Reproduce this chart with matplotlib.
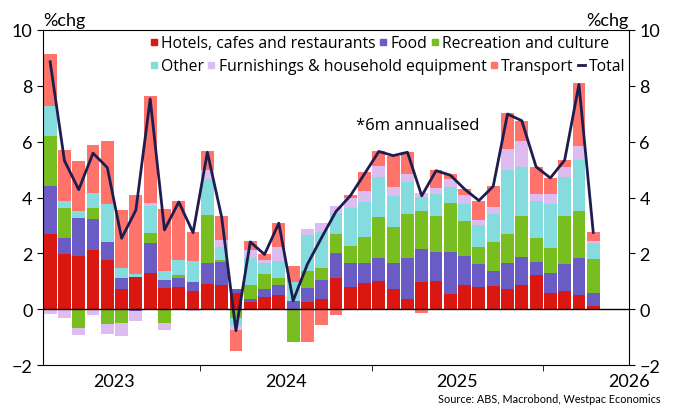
import numpy as np
import matplotlib
matplotlib.use("Agg")
import matplotlib.pyplot as plt
from matplotlib.lines import Line2D

plt.rcParams["font.family"] = ["Lato", "DejaVu Sans"]

# monthly, Aug 2022 .. Oct 2025
months = np.arange(39)

hotels = [2.71, 1.97, 1.91, 2.11, 1.76, 0.74, 1.17, 1.28, 0.76, 0.80, 0.66, 0.91, 0.88,
          0.57, 0.24, 0.44, 0.50, 0.00, 0.26, 0.36, 1.10, 0.80, 0.93, 1.02, 0.74, 0.38,
          0.96, 1.02, 0.53, 0.87, 0.80, 0.84, 0.72, 0.86, 1.22, 0.59, 0.66, 0.51, 0.10]
food = [1.71, 0.59, 1.35, 1.12, 0.65, 0.36, -0.07, 1.10, 0.27, 0.30, 0.33, 0.75, 0.82,
        0.15, 0.12, 0.30, 0.36, 0.29, 0.50, 0.67, 0.91, 0.85, 0.71, 0.82, 0.90, 1.46,
        1.19, 1.01, 1.52, 1.02, 0.82, 0.52, 0.94, 1.02, 0.46, 0.69, 0.96, 1.33, 0.49]
recreation = [1.78, 1.06, -0.69, 0.39, -0.54, -0.48, 0.00, 0.34, -0.50, 0.14, 0.00, 1.72, 0.06,
              -0.32, 0.50, 0.51, 0.24, -1.19, 0.60, 0.43, 0.67, 0.62, 0.94, 1.46, 1.32, 1.57,
              1.37, 1.32, 1.74, 1.28, 0.59, 1.03, 1.05, 1.44, 0.86, 0.91, 1.70, 1.66, 1.21]
other = [1.08, 0.26, 0.26, 0.55, 1.35, 0.39, 0.08, 0.98, 0.34, 0.53, 0.72, 1.28, 0.47,
         -0.29, 0.96, 0.42, 0.63, 0.67, 1.30, 1.29, 0.76, 1.34, 1.26, 1.43, 1.08, 1.13,
         0.51, 0.78, 0.59, 0.59, 0.81, 1.02, 2.27, 1.78, 1.32, 1.57, 1.41, 1.84, 0.57]
furnishings = [-0.19, -0.33, -0.24, -0.22, -0.36, -0.49, -0.36, 0.10, -0.24, 0.00, -0.07, 0.32, 0.26,
               -0.13, 0.31, 0.10, 0.50, 0.00, 0.21, 0.33, 0.25, 0.37, 0.39, 0.41, 0.32, 0.30,
               0.14, 0.21, 0.30, 0.33, 0.17, 0.26, 0.75, 0.92, 0.27, 0.36, 0.37, 0.50, 0.08]
transport = [1.86, 1.82, 1.78, 1.71, 2.26, 2.05, 2.83, 3.83, 2.21, 2.10, 1.07, 0.67, 0.84,
             -0.75, 0.31, 0.20, 0.86, 0.57, -1.19, -0.55, -0.22, 0.11, 0.67, 0.51, 1.14, 0.78,
             -0.14, 0.64, 0.16, 0.21, 0.70, 0.73, 1.28, 0.73, 0.97, 0.58, 0.24, 2.25, 0.30]
total = [8.86, 5.32, 4.28, 5.59, 5.07, 2.54, 3.55, 7.53, 2.84, 3.84, 2.74, 5.62, 3.30,
         -0.77, 2.41, 1.96, 3.08, 0.30, 1.61, 2.57, 3.50, 4.06, 4.85, 5.65, 5.50, 5.62,
         4.06, 4.96, 4.80, 4.30, 3.89, 4.40, 6.99, 6.75, 5.10, 4.70, 5.34, 8.05, 2.75]

year_labels = ["2023", "2024", "2025", "2026"]
year_pos = [4.5, 16.5, 28.5, 40.5]   # start of January
mid_year = [10.5, 22.5, 34.5]        # start of July

series = [
    ("Hotels, cafes and restaurants", hotels, "#da1710"),
    ("Food", food, "#6b5bc4"),
    ("Recreation and culture", recreation, "#78be20"),
    ("Other", other, "#84dcdf"),
    ("Furnishings & household equipment", furnishings, "#ddbdf1"),
    ("Transport", transport, "#ff736a"),
]

fig = plt.figure(figsize=(6.74, 4.10), dpi=100)
ax = fig.add_axes([0.0638, 0.1073, 0.8694, 0.8171])

pos_base = np.zeros(len(months))
neg_base = np.zeros(len(months))
for name, vals, col in series:
    v = np.array(vals)
    b = np.where(v >= 0, pos_base, neg_base)
    ax.bar(months, v, 0.9, bottom=b, color=col, edgecolor="none")
    pos_base += np.clip(v, 0, None)
    neg_base += np.clip(v, None, 0)

ax.plot(months, total, color="#1f1c4f", lw=2)
ax.axhline(0, color="black", lw=1)

ax.set_xlim(-0.5, 40.5)
ax.set_ylim(-2, 10)
ax.set_yticks(range(-2, 11, 2))
ax.yaxis.set_ticks_position("both")
ax.tick_params(axis="y", labelright=True, labelsize=13, length=4, direction="out")
ax.set_xticks(year_pos)
ax.set_xticklabels(year_labels, fontsize=13)
ax.set_xticks(mid_year, minor=True)
ax.tick_params(axis="x", which="major", length=0, pad=6)
ax.tick_params(axis="x", which="minor", length=4)

fig.text(0.0638, 0.93, "%chg", ha="left", va="bottom", fontsize=13)
fig.text(0.9332, 0.93, "%chg", ha="right", va="bottom", fontsize=13)
ax.text(25.7, 6.6, "*6m annualised", ha="center", va="center", fontsize=12,
        family=["Open Sans", "DejaVu Sans"])
fig.text(0.98, 0.012, "Source: ABS, Macrobond, Westpac Economics", ha="right",
         va="bottom", fontsize=7.8)

def sq(col):
    return Line2D([], [], marker="s", ls="none", color=col, markersize=4)

row1 = [sq(c) for _, _, c in series[:3]]
row2 = [sq(c) for _, _, c in series[3:]] + [Line2D([], [], color="#1f1c4f", lw=2)]
kw = dict(frameon=False, prop={"family": ["Open Sans", "DejaVu Sans"], "size": 11.3},
          handlelength=0.5, handletextpad=0.2, columnspacing=0.25,
          borderaxespad=0, borderpad=0)
leg1 = ax.legend(row1, [s[0] for s in series[:3]], ncol=3, loc="upper left",
                 bbox_to_anchor=(0.182, 0.985), **kw)
ax.add_artist(leg1)
ax.legend(row2, [s[0] for s in series[3:]] + ["Total"], ncol=4, loc="upper left",
          bbox_to_anchor=(0.182, 0.915), **kw)

fig.savefig("out.png", dpi=100)
